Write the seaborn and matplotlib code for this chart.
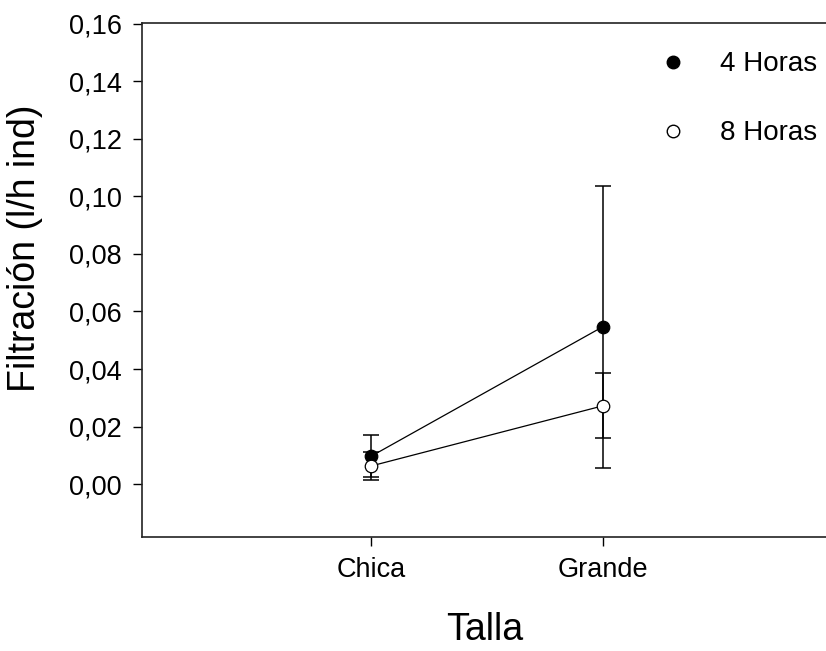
import numpy as np
import pandas as pd
import seaborn as sns
import matplotlib.pyplot as plt
from matplotlib.lines import Line2D

# Data (mean +/- error)
tallas = ['Chica', 'Grande']
posiciones = [1, 2]
horas_4 = [0.0097, 0.0547]
error_4 = [0.0073, 0.0490]
horas_8 = [0.0063, 0.0272]
error_8 = [0.0049, 0.0113]
y_ticks = [0.00, 0.02, 0.04, 0.06, 0.08, 0.10, 0.12, 0.14, 0.16]

df = pd.concat([
    pd.DataFrame({'pos': posiciones, 'valor': horas_4, 'error': error_4, 'horas': '4 Horas'}),
    pd.DataFrame({'pos': posiciones, 'valor': horas_8, 'error': error_8, 'horas': '8 Horas'}),
], ignore_index=True)

sns.set_style('ticks')
plt.rcParams['font.family'] = ['Liberation Sans', 'DejaVu Sans']
plt.rcParams['text.color'] = 'black'
plt.rcParams['axes.labelcolor'] = 'black'

fig = plt.figure(figsize=(8.26, 6.51), dpi=100)
ax = fig.add_axes([0.1719, 0.1751, 0.829, 0.7896])

# Error bars first, markers on top
for name, face in [('4 Horas', 'black'), ('8 Horas', 'white')]:
    d = df[df['horas'] == name]
    ax.errorbar(d['pos'], d['valor'], yerr=d['error'], fmt='none', ecolor='black',
                elinewidth=1.1, capsize=5.5, capthick=1.1, zorder=2)
    sns.lineplot(data=d, x='pos', y='valor', ax=ax, color='black', linewidth=0.9,
                 marker='o', markersize=9, markerfacecolor=face,
                 markeredgecolor='black', markeredgewidth=0.9, zorder=3)

ax.set_xlim(0.01, 2.967)
ax.set_ylim(-0.0184, 0.1603)
ax.set_xticks(posiciones)
ax.set_xticklabels(tallas)
ax.set_yticks(y_ticks)
ax.set_yticklabels([f'{v:.2f}'.replace('.', ',') for v in y_ticks])

ax.tick_params(direction='out', length=6.5, width=1, labelsize=19.5, pad=8,
               colors='black')
for side in ['left', 'bottom', 'top']:
    ax.spines[side].set_linewidth(1.2)
    ax.spines[side].set_color('#222222')
ax.spines['right'].set_visible(False)

ax.set_xlabel('Talla', fontsize=27, labelpad=21)
ax.set_ylabel('Filtración (l/h ind)', fontsize=27)
ax.yaxis.set_label_coords(-0.145, 0.562)

handles = [
    Line2D([], [], linestyle='none', marker='o', markersize=9, markerfacecolor='black', markeredgecolor='black'),
    Line2D([], [], linestyle='none', marker='o', markersize=9, markerfacecolor='white', markeredgecolor='black'),
]
ax.legend(handles, ['4 Horas', '8 Horas'], loc='upper left', bbox_to_anchor=(0.781, 0.921),
          bbox_transform=fig.transFigure, frameon=False, fontsize=20, labelspacing=1.55,
          handletextpad=0.7, handlelength=2, borderpad=0, borderaxespad=0)

plt.savefig('out.png', dpi=100)
